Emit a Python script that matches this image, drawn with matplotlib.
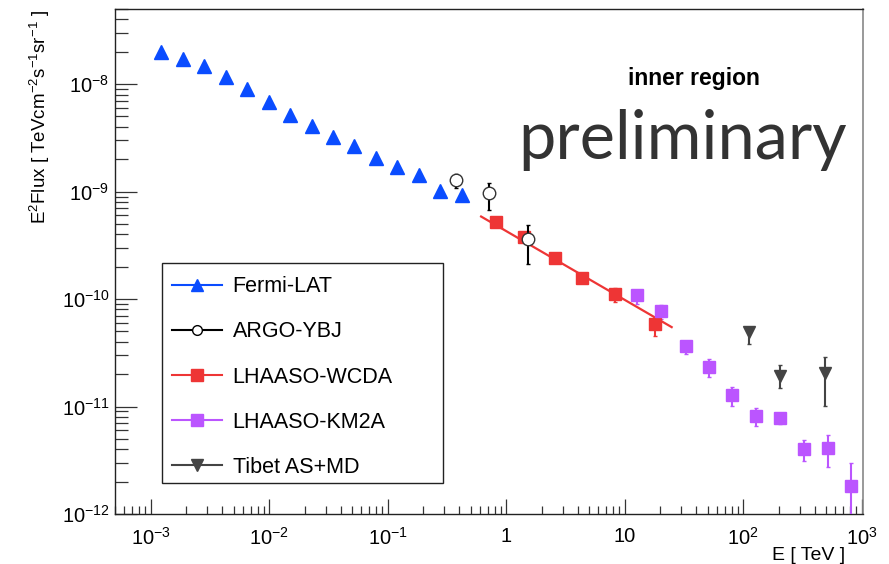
import numpy as np
import matplotlib
matplotlib.use("Agg")
import matplotlib.pyplot as plt
from matplotlib.lines import Line2D
from matplotlib.patches import Rectangle
from matplotlib.ticker import LogLocator, FixedLocator, FuncFormatter

plt.rcParams['font.family'] = ['Liberation Sans', 'DejaVu Sans']
plt.rcParams['mathtext.fontset'] = 'custom'
plt.rcParams['mathtext.rm'] = 'Liberation Sans'
plt.rcParams['mathtext.default'] = 'regular'

# Fermi-LAT
fermi_e = np.array([1.23e-3, 1.87e-3, 2.83e-3, 4.30e-3, 6.52e-3, 9.89e-3, 0.0150, 0.0228,
                    0.0345, 0.0524, 0.0794, 0.1205, 0.183, 0.277, 0.42])
fermi_f = np.array([2.01e-8, 1.72e-8, 1.46e-8, 1.16e-8, 8.98e-9, 6.89e-9, 5.18e-9, 4.04e-9,
                    3.19e-9, 2.63e-9, 2.05e-9, 1.71e-9, 1.43e-9, 1.02e-9, 9.3e-10])

# ARGO-YBJ
argo_e = np.array([0.376, 0.718, 1.53])
argo_f = np.array([1.28e-9, 9.7e-10, 3.64e-10])
argo_lo = np.array([1.09e-9, 6.78e-10, 2.13e-10])
argo_hi = np.array([1.47e-9, 1.19e-9, 4.88e-10])

# LHAASO-WCDA
wcda_e = np.array([0.82, 1.40, 2.56, 4.38, 8.36, 17.9])
wcda_f = np.array([5.16e-10, 3.82e-10, 2.40e-10, 1.57e-10, 1.12e-10, 5.85e-11])
wcda_lo = np.array([4.9e-10, 3.65e-10, 2.3e-10, 1.42e-10, 9.4e-11, 4.58e-11])
wcda_hi = np.array([5.4e-10, 4.0e-10, 2.5e-10, 1.70e-10, 1.26e-10, 6.84e-11])
# power-law fit: E^2 dN/dE = norm * E^(2-index)
fit_norm = 4.29e-10
fit_index = 2.64
fit_emin, fit_emax = 0.614, 24.9

# LHAASO-KM2A
km2a_e = np.array([12.8, 20.1, 32.7, 51.1, 81.1, 129, 203, 323, 515, 815])
km2a_f = np.array([1.08e-10, 7.68e-11, 3.62e-11, 2.33e-11, 1.29e-11, 8.09e-12, 7.82e-12,
                   4.02e-12, 4.11e-12, 1.81e-12])
km2a_lo = np.array([9.0e-11, 6.52e-11, 3.09e-11, 1.90e-11, 1.02e-11, 6.58e-12, 6.83e-12,
                    3.11e-12, 2.72e-12, 1e-13])
km2a_hi = np.array([1.22e-10, 8.87e-11, 4.11e-11, 2.75e-11, 1.51e-11, 9.62e-12, 8.75e-12,
                    4.88e-12, 5.43e-12, 2.96e-12])

# Tibet AS+MD
tibet_e = np.array([112, 203, 489])
tibet_f = np.array([4.89e-11, 1.94e-11, 2.05e-11])
tibet_lo = np.array([3.81e-11, 1.49e-11, 1.02e-11])
tibet_hi = np.array([5.5e-11, 2.41e-11, 2.88e-11])

c_fermi = '#0a4cff'
c_argo = '#000000'
c_wcda = '#ee3535'
c_km2a = '#bb55ff'
c_tibet = '#444444'

fig = plt.figure(figsize=(8.89, 5.64), dpi=100)
ax = fig.add_axes([115/889, 1-514/564, 748/889, 505/564])
ax.set_xscale('log')
ax.set_yscale('log')
ax.set_xlim(5e-4, 1.025e3)
ax.set_ylim(1e-12, 5e-8)

ax.plot(fermi_e, fermi_f, ls='none', marker='^', ms=9.6, color=c_fermi, mec=c_fermi, zorder=3)

xx = np.logspace(np.log10(fit_emin), np.log10(fit_emax), 50)
ax.plot(xx, fit_norm * xx**(2 - fit_index), color=c_wcda, lw=1.6, zorder=2)
ax.errorbar(wcda_e, wcda_f, yerr=[wcda_f - wcda_lo, wcda_hi - wcda_f], fmt='s', ms=8.4,
            color=c_wcda, ecolor=c_wcda, elinewidth=1.5, capsize=1.5, zorder=3)

ax.errorbar(km2a_e, km2a_f, yerr=[km2a_f - km2a_lo, km2a_hi - km2a_f], fmt='s', ms=8.0,
            color=c_km2a, ecolor=c_km2a, elinewidth=1.5, capsize=1.5, zorder=3)

ax.errorbar(tibet_e, tibet_f, yerr=[tibet_f - tibet_lo, tibet_hi - tibet_f], fmt='v', ms=8.0,
            color=c_tibet, ecolor=c_tibet, elinewidth=1.5, capsize=1.5, zorder=3)

argo = ax.errorbar(argo_e, argo_f, yerr=[argo_f - argo_lo, argo_hi - argo_f], fmt='none',
                   ecolor='black', elinewidth=1.5, capsize=1.5, zorder=4)
ax.plot(argo_e, argo_f, ls='none', marker='o', ms=9, mfc='white', mec='#333333',
        mew=1.0, zorder=5)

# axes style
ax.xaxis.set_major_locator(FixedLocator([1e-3, 1e-2, 1e-1, 1, 10, 1e2, 1e3]))
ax.xaxis.set_minor_locator(LogLocator(base=10, subs=np.arange(2, 10), numticks=20))
ax.yaxis.set_major_locator(FixedLocator([1e-12, 1e-11, 1e-10, 1e-9, 1e-8]))
ax.yaxis.set_minor_locator(LogLocator(base=10, subs=np.arange(2, 10), numticks=20))

def xfmt(v, pos):
    p = int(round(np.log10(v)))
    if p == 0:
        return '1'
    if p == 1:
        return '10'
    return r'$10^{%d}$' % p

def yfmt(v, pos):
    return r'$10^{%d}$' % int(round(np.log10(v)))

ax.xaxis.set_major_formatter(FuncFormatter(xfmt))
ax.yaxis.set_major_formatter(FuncFormatter(yfmt))
ax.xaxis.set_minor_formatter(FuncFormatter(lambda v, p: ''))
ax.yaxis.set_minor_formatter(FuncFormatter(lambda v, p: ''))

ax.tick_params(axis='both', which='both', direction='in', top=False, right=False,
               color='#333333', width=0.9, labelsize=14.5)
ax.tick_params(axis='x', which='major', length=11, pad=9)
ax.tick_params(axis='x', which='minor', length=5.5)
ax.tick_params(axis='y', which='major', length=16, pad=4)
ax.tick_params(axis='y', which='minor', length=9)
for s in ['left', 'bottom', 'top']:
    ax.spines[s].set_color('#222222')
    ax.spines[s].set_linewidth(1.0)
ax.spines['right'].set_color('#888888')
ax.spines['right'].set_linewidth(1.2)

fig.text(40/889, 1-10/564, r'E$^{2}$Flux [ TeVcm$^{-2}$s$^{-1}$sr$^{-1}$ ]', rotation=90,
         ha='center', va='top', fontsize=13.5)
fig.text(845/889, 1-555/564, 'E [ TeV ]', ha='right', va='center', fontsize=14)

ax.text(694/889, 1-78/564, 'inner region', transform=fig.transFigure, ha='center',
        va='center', fontsize=16.5, fontweight='bold')
ax.text(683/889, 1-140/564, 'preliminary', transform=fig.transFigure, ha='center',
        va='center', fontsize=48, color='#333333', family=['Lato', 'DejaVu Sans'])

# legend
box = Rectangle((0.0624, 0.062), 0.3756, 0.436, transform=ax.transAxes, fill=False,
                edgecolor='#222222', lw=1.0, zorder=5)
ax.add_patch(box)
handles = [
    Line2D([], [], color=c_fermi, marker='^', ms=9, lw=1.5),
    Line2D([], [], color='black', marker='o', ms=7, mfc='white', lw=1.5),
    Line2D([], [], color=c_wcda, marker='s', ms=8, lw=1.5),
    Line2D([], [], color=c_km2a, marker='s', ms=8, lw=1.5),
    Line2D([], [], color=c_tibet, marker='v', ms=8, lw=1.5),
]
labels = ['Fermi-LAT', 'ARGO-YBJ', 'LHAASO-WCDA', 'LHAASO-KM2A', 'Tibet AS+MD']
leg = ax.legend(handles, labels, loc='upper left', bbox_to_anchor=(0.0624, 0.492),
                borderaxespad=0, frameon=False, fontsize=15.5, handlelength=2.3,
                handletextpad=0.5, labelspacing=1.12, borderpad=0.5)

fig.savefig('out.png', dpi=100)
